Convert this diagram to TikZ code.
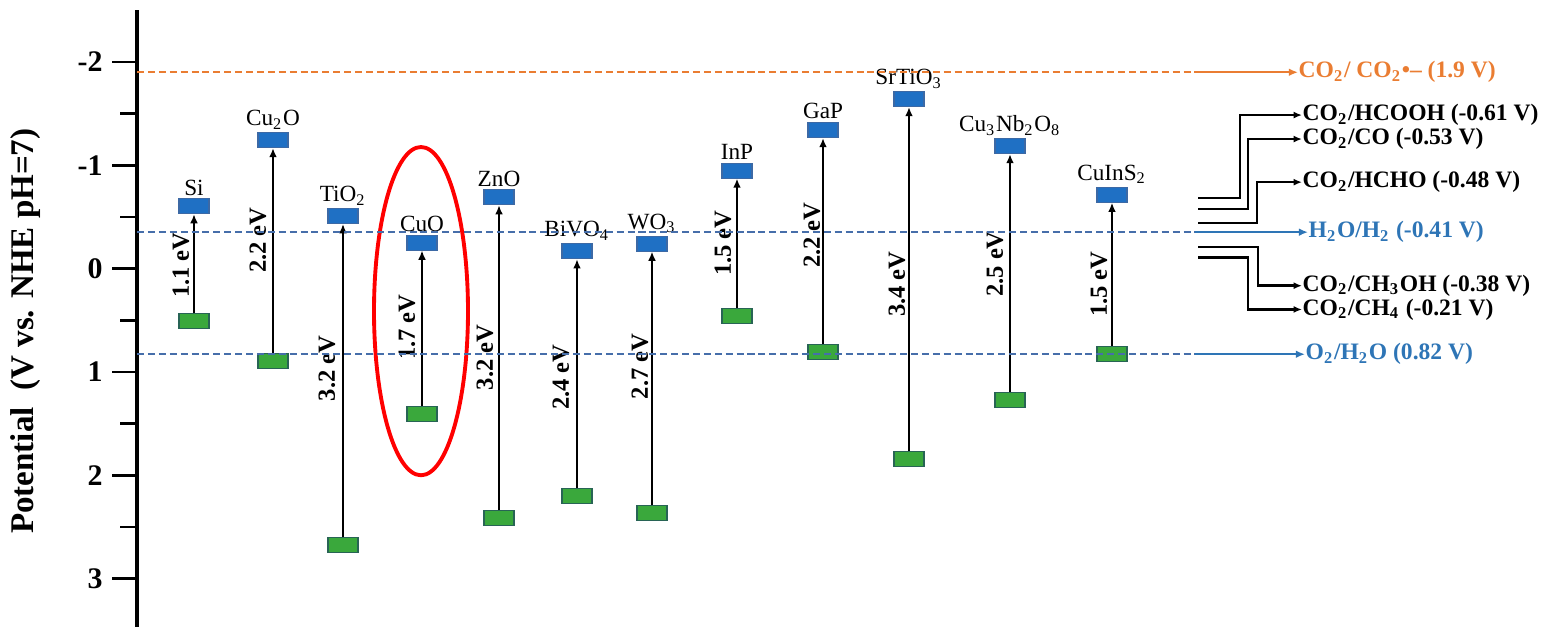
\documentclass[tikz,border=0pt]{standalone}
\usepackage{fontspec}
\setmainfont{Liberation Serif}
\usetikzlibrary{positioning,arrows.meta}
\definecolor{cbblue}{RGB}{31,112,196}
\definecolor{cbedge}{RGB}{60,105,165}
\definecolor{vbgreen}{RGB}{58,168,60}
\definecolor{vbedge}{RGB}{40,100,85}
\definecolor{redoxorange}{RGB}{234,125,50}
\definecolor{redoxblue}{RGB}{46,117,182}
\definecolor{lineblue}{RGB}{70,110,170}
\newcommand{\chemsub}[1]{\textsubscript{#1}}

\begin{document}
\begin{tikzpicture}[
  x=0.01cm, y=-1.033cm,
  cb/.style={rectangle,draw=cbedge,fill=cbblue,line width=0.3pt,minimum width=0.30cm,minimum height=0.15cm,inner sep=0pt},
  vb/.style={rectangle,draw=vbedge,fill=vbgreen,line width=0.3pt,minimum width=0.30cm,minimum height=0.15cm,inner sep=0pt},
  mat/.style={font=\fontsize{6.6}{7}\selectfont,inner sep=0.6pt},
  gaplabel/.style={font=\bfseries\fontsize{7}{8}\selectfont,rotate=90,inner sep=0pt},
  gaparrow/.style={line width=0.6pt,-{Latex[length=2.6pt,width=2.2pt]}},
  ticklabel/.style={font=\bfseries\fontsize{8.5}{9}\selectfont,inner sep=2.5pt},
  redox/.style={font=\bfseries\fontsize{6.7}{7}\selectfont,anchor=west,inner sep=0pt},
  dashline/.style={line width=0.45pt,dash pattern=on 2pt off 1.1pt},
  redoxarrow/.style={line width=0.55pt,-{Latex[length=2.6pt,width=2.2pt]}},
  bracket/.style={line width=0.75pt,-{Latex[length=2.4pt,width=2pt]}}
]
  \useasboundingbox (0,-2.5993) rectangle (1544,3.4608);

  % axis
  \draw[line width=0.95pt] (137,-2.5) -- (137,3.47);
  \draw[line width=0.8pt] (112,-2) -- (137,-2);
  \draw[line width=0.8pt] (112,-1) -- (137,-1);
  \draw[line width=0.8pt] (112,0) -- (137,0);
  \draw[line width=0.8pt] (112,1) -- (137,1);
  \draw[line width=0.8pt] (112,2) -- (137,2);
  \draw[line width=0.8pt] (112,3) -- (137,3);
  \draw[line width=0.8pt] (120,-1.5) -- (137,-1.5);
  \draw[line width=0.8pt] (120,-0.5) -- (137,-0.5);
  \draw[line width=0.8pt] (120,0.5) -- (137,0.5);
  \draw[line width=0.8pt] (120,1.5) -- (137,1.5);
  \draw[line width=0.8pt] (120,2.5) -- (137,2.5);
  \node[ticklabel,left] (tm2) at (112,-2) {-2};
  \node[ticklabel,left] (tm1) at (112,-1) {-1};
  \node[ticklabel,left] (t0) at (112,0) {0};
  \node[ticklabel,left] (t1) at (112,1) {1};
  \node[ticklabel,left] (t2) at (112,2) {2};
  \node[ticklabel,left] (t3) at (112,3) {3};
  \node[font=\bfseries\fontsize{9.4}{10}\selectfont,rotate=90] (ylab) at (26,0.605) {Potential~ (V vs. NHE pH=7)};

  % band edges
  \node[cb] (cbSi) at (194,-0.605) {};   \node[vb] (vbSi) at (194,0.508) {};
  \node[cb] (cbCuO2) at (273,-1.244) {}; \node[vb] (vbCuO2) at (273,0.895) {};
  \node[cb] (cbTi) at (343,-0.508) {};   \node[vb] (vbTi) at (343,2.672) {};
  \node[cb] (cbCuO) at (422,-0.252) {};  \node[vb] (vbCuO) at (422,1.409) {};
  \node[cb] (cbZn) at (499,-0.692) {};   \node[vb] (vbZn) at (499,2.415) {};
  \node[cb] (cbBi) at (577,-0.169) {};   \node[vb] (vbBi) at (577,2.202) {};
  \node[cb] (cbW) at (652,-0.242) {};    \node[vb] (vbW) at (652,2.367) {};
  \node[cb] (cbInP) at (737,-0.949) {};  \node[vb] (vbInP) at (737,0.455) {};
  \node[cb] (cbGaP) at (823,-1.341) {};  \node[vb] (vbGaP) at (823,0.808) {};
  \node[cb] (cbSr) at (909,-1.641) {};   \node[vb] (vbSr) at (909,1.844) {};
  \node[cb] (cbNb) at (1010,-1.186) {};  \node[vb] (vbNb) at (1010,1.273) {};
  \node[cb] (cbCIS) at (1112,-0.716) {}; \node[vb] (vbCIS) at (1112,0.828) {};

  \node[mat,above=0pt of cbSi] (nSi) {Si};
  \node[mat,above=0pt of cbCuO2] (nCuO2) {Cu\chemsub{2}O};
  \node[mat,above=0pt of cbTi] (nTi) {TiO\chemsub{2}};
  \node[mat,above=0pt of cbCuO] (nCuO) {CuO};
  \node[mat,above=0pt of cbZn] (nZn) {ZnO};
  \node[mat,above=0pt of cbBi] (nBi) {BiVO\chemsub{4}};
  \node[mat,above=0pt of cbW] (nW) {WO\chemsub{3}};
  \node[mat,above=0pt of cbInP] (nInP) {InP};
  \node[mat,above=0pt of cbGaP] (nGaP) {GaP};
  \node[mat,above=0pt of cbSr] (nSr) {SrTiO\chemsub{3}};
  \node[mat,above=0pt of cbNb] (nNb) {Cu\chemsub{3}Nb\chemsub{2}O\chemsub{8}};
  \node[mat,above=0pt of cbCIS] (nCIS) {CuInS\chemsub{2}};

  \draw[gaparrow] (vbSi) -- (cbSi);
  \draw[gaparrow,line width=0.7pt] (vbCuO2) -- (cbCuO2);
  \draw[gaparrow,line width=0.35pt] (vbTi) -- (cbTi);
  \draw[gaparrow,line width=0.4pt] (vbCuO) -- (cbCuO);
  \draw[gaparrow,line width=0.75pt] (vbZn) -- (cbZn);
  \draw[gaparrow] (vbBi) -- (cbBi);
  \draw[gaparrow,line width=0.45pt] (vbW) -- (cbW);
  \draw[gaparrow] (vbInP) -- (cbInP);
  \draw[gaparrow,line width=0.7pt] (vbGaP) -- (cbGaP);
  \draw[gaparrow] (vbSr) -- (cbSr);
  \draw[gaparrow] (vbNb) -- (cbNb);
  \draw[gaparrow] (vbCIS) -- (cbCIS);

  \node[gaplabel] (gSi) at (181,-0.034) {1.1 eV};
  \node[gaplabel] (gCuO2) at (258,-0.276) {2.2 eV};
  \node[gaplabel] (gTi) at (327,0.963) {3.2 eV};
  \node[gaplabel] (gCuO) at (407,0.566) {1.7 eV};
  \node[gaplabel] (gZn) at (485,0.857) {3.2 eV};
  \node[gaplabel] (gBi) at (561,1.050) {2.4 eV};
  \node[gaplabel] (gW) at (640,0.944) {2.7 eV};
  \node[gaplabel] (gInP) at (723,-0.247) {1.5 eV};
  \node[gaplabel] (gGaP) at (812,-0.324) {2.2 eV};
  \node[gaplabel] (gSr) at (897,0.150) {3.4 eV};
  \node[gaplabel] (gNb) at (995,-0.044) {2.5 eV};
  \node[gaplabel] (gCIS) at (1099,0.150) {1.5 eV};

  % highlight
  \draw[red,line width=1.1pt] (421,0.411) ellipse [x radius=47, y radius=1.588];

  % redox potentials
  \node[redox,text=redoxorange] (lCO2) at (1298,-1.90) {CO\chemsub{2}/ CO\chemsub{2}•– (1.9 V)};
  \node[redox,text=redoxblue] (lH2) at (1308,-0.353) {H\chemsub{2}O/H\chemsub{2} (-0.41 V)};
  \node[redox,text=redoxblue] (lO2) at (1305,0.828) {O\chemsub{2}/H\chemsub{2}O (0.82 V)};
  \node[redox] (lHCOOH) at (1302,-1.486) {CO\chemsub{2}/HCOOH (-0.61 V)};
  \node[redox] (lCO) at (1302,-1.254) {CO\chemsub{2}/CO (-0.53 V)};
  \node[redox] (lHCHO) at (1302,-0.837) {CO\chemsub{2}/HCHO (-0.48 V)};
  \node[redox] (lMeOH) at (1302,0.165) {CO\chemsub{2}/CH\chemsub{3}OH (-0.38 V)};
  \node[redox] (lCH4) at (1302,0.395) {CO\chemsub{2}/CH\chemsub{4} (-0.21 V)};

  \coordinate (oA) at (137,-1.90);  \coordinate (oB) at (1195,-1.90);
  \coordinate (hA) at (137,-0.353); \coordinate (hB) at (1195,-0.353);
  \coordinate (wA) at (137,0.828);  \coordinate (wB) at (1195,0.828);
  \draw[dashline,redoxorange] (oA) -- (oB);
  \draw[redoxarrow,redoxorange] (oB) -- (lCO2);
  \draw[dashline,lineblue] (hA) -- (hB);
  \draw[redoxarrow,redoxblue] (hB) -- (lH2);
  \draw[dashline,lineblue] (wA) -- (wB);
  \draw[redoxarrow,redoxblue] (wB) -- (lO2);

  \coordinate (sHCOOH) at (1198,-0.682);
  \coordinate (sCO) at (1198,-0.576);
  \coordinate (sHCHO) at (1198,-0.440);
  \coordinate (sMeOH) at (1198,-0.208);
  \coordinate (sCH4) at (1198,-0.111);
  \draw[bracket] (sHCOOH) -- ++(42,0) |- (lHCOOH.west);
  \draw[bracket] (sCO) -- ++(50,0) |- (lCO.west);
  \draw[bracket] (sHCHO) -- ++(59,0) |- (lHCHO.west);
  \draw[bracket] (sMeOH) -- ++(60,0) |- (lMeOH.west);
  \draw[bracket] (sCH4) -- ++(50,0) |- (lCH4.west);
\end{tikzpicture}
\end{document}
